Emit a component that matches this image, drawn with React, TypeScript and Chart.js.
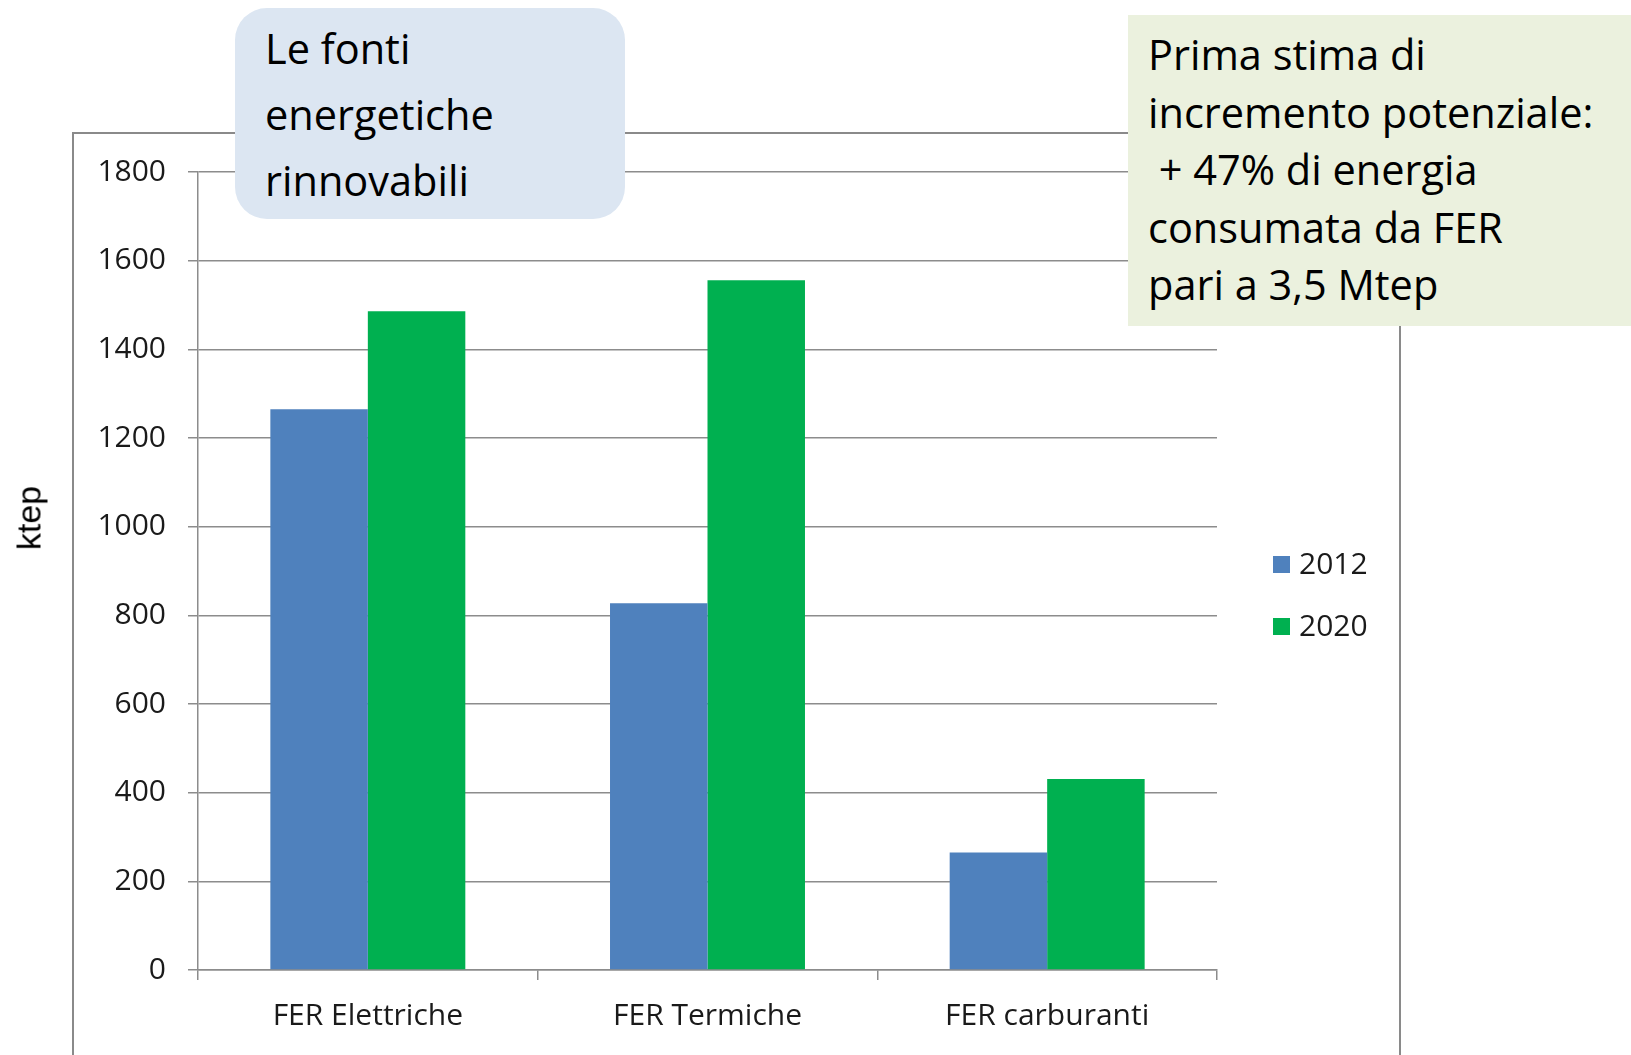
import React, { useEffect, useRef } from "react";
import { Chart, registerables } from "chart.js";

Chart.register(...registerables);

const categories = ["FER Elettriche", "FER Termiche", "FER carburanti"];
const seriesNames = ["2012", "2020"];
const values2012 = [1265, 827, 265];
const values2020 = [1486, 1556, 431];
const seriesColors = ["#4F81BD", "#00B050"];
const yMin = 0;
const yMax = 1800;
const yStep = 200;
const yTitle = "ktep";
const blueNote = ["Le fonti", "energetiche", "rinnovabili"];
const greenNote = [
  "Prima stima di",
  "incremento potenziale:",
  " + 47% di energia",
  "consumata da FER",
  "pari a 3,5 Mtep",
];

const FONT = "'Open Sans', sans-serif";
const GRID = "#8C8C8C";

const legendPlugin = {
  id: "sideLegend",
  afterDraw(chart: any) {
    const ctx = chart.ctx;
    ctx.save();
    chart.data.datasets.forEach((ds: any, i: number) => {
      const y = 556 + i * 62;
      ctx.fillStyle = ds.backgroundColor;
      ctx.fillRect(1273, y, 17, 17);
      ctx.fillStyle = "#1A1A1A";
      ctx.font = `30px ${FONT}`;
      ctx.textBaseline = "middle";
      ctx.textAlign = "left";
      ctx.fillText(ds.label, 1299, y + 9);
    });
    ctx.restore();
  },
};

export default function App() {
  const ref = useRef<HTMLCanvasElement>(null);

  useEffect(() => {
    if (!ref.current) return;
    const chart = new Chart(ref.current, {
      type: "bar",
      data: {
        labels: categories,
        datasets: [
          { label: seriesNames[0], data: values2012, backgroundColor: seriesColors[0] },
          { label: seriesNames[1], data: values2020, backgroundColor: seriesColors[1] },
        ],
      },
      options: {
        responsive: false,
        maintainAspectRatio: false,
        animation: false,
        datasets: { bar: { categoryPercentage: 0.574, barPercentage: 1.0 } },
        layout: { padding: { left: 0, top: 172, right: 414, bottom: 0 } },
        plugins: { legend: { display: false }, tooltip: { enabled: false } },
        scales: {
          x: {
            offset: true,
            afterFit: (s: any) => {
              s.height = 85;
            },
            grid: {
              offset: true,
              drawOnChartArea: false,
              drawTicks: true,
              tickLength: 10,
              color: GRID,
              lineWidth: 1.5,
            },
            border: { display: true, color: GRID, width: 1.5 },
            ticks: { font: { family: FONT, size: 30 }, color: "#1A1A1A", padding: 18 },
          },
          y: {
            min: yMin,
            max: yMax,
            afterFit: (s: any) => {
              s.width = 198;
            },
            ticks: {
              stepSize: yStep,
              font: { family: FONT, size: 30 },
              color: "#1A1A1A",
              padding: 22,
              callback: (v: any) => String(v),
            },
            grid: { color: GRID, lineWidth: 1.5, tickLength: 10, drawTicks: true },
            border: { display: true, color: GRID, width: 1.5 },
          },
        },
      },
      plugins: [legendPlugin],
    });
    return () => chart.destroy();
  }, []);

  return (
    <div style={{ position: "absolute", left: 0, top: 0, width: 1631, height: 1055, overflow: "hidden", background: "#fff" }}>
      <div
        style={{
          position: "absolute",
          left: 72,
          top: 132,
          width: 1329,
          height: 1000,
          border: "2px solid #8A8A8A",
          boxSizing: "border-box",
        }}
      />
      <canvas ref={ref} width={1631} height={1055} style={{ position: "absolute", left: 0, top: 0 }} />
      <div
        style={{
          position: "absolute",
          left: 29,
          top: 518,
          transform: "translate(-50%, -50%) rotate(-90deg)",
          fontFamily: "'Liberation Sans', Arial, sans-serif",
          fontSize: 34,
          color: "#000",
          whiteSpace: "nowrap",
        }}
      >
        {yTitle}
      </div>
      <div
        style={{
          position: "absolute",
          left: 235,
          top: 8,
          width: 390,
          height: 211,
          borderRadius: 32,
          background: "#DCE6F2",
          boxSizing: "border-box",
          padding: "7px 0 0 30px",
          fontFamily: FONT,
          fontSize: 41.5,
          lineHeight: "66px",
          color: "#000",
        }}
      >
        {blueNote.map((t, i) => (
          <div key={i} style={{ whiteSpace: "pre" }}>{t}</div>
        ))}
      </div>
      <div
        style={{
          position: "absolute",
          left: 1128,
          top: 15,
          width: 503,
          height: 311,
          background: "#EBF1DE",
          boxSizing: "border-box",
          padding: "11px 0 0 20px",
          fontFamily: FONT,
          fontSize: 41.5,
          lineHeight: "57.5px",
          color: "#000",
        }}
      >
        {greenNote.map((t, i) => (
          <div key={i} style={{ whiteSpace: "pre" }}>{t}</div>
        ))}
      </div>
    </div>
  );
}
